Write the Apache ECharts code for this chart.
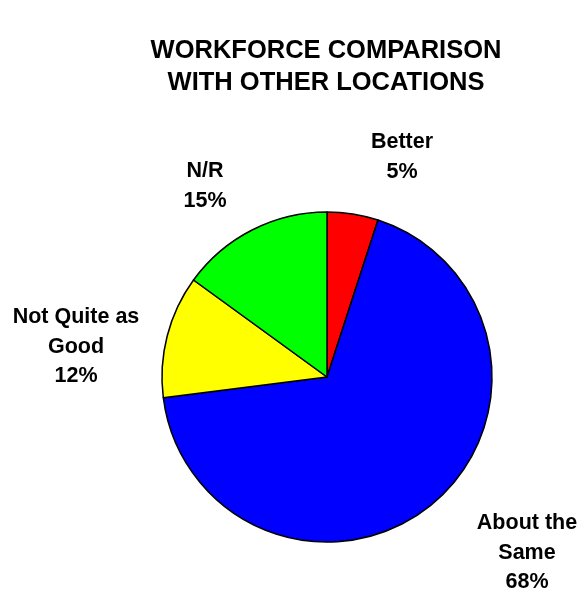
<!DOCTYPE html>
<html><head><meta charset="utf-8">
<script src="https://cdn.jsdelivr.net/npm/echarts@6/dist/echarts.min.js"></script>
<style>html,body{margin:0;padding:0;background:#fff}#c{width:583px;height:594px}</style>
</head><body><div id="c"></div>
<script>
const categories = ['Better', 'About the\nSame', 'Not Quite as\nGood', 'N/R'];
const values = [5, 68, 12, 15];
const colors = ['#FF0000', '#0000FF', '#FFFF00', '#00FF00'];
const labelPos = [[402, 157], [527, 553], [76, 347], [205, 186]];

const chart = echarts.init(document.getElementById('c'));
chart.setOption({
  animation: false,
  title: {
    text: 'WORKFORCE COMPARISON\nWITH OTHER LOCATIONS',
    left: 321, top: 30, textAlign: 'center',
    textStyle: { fontFamily: 'Liberation Sans, Arial, sans-serif', fontSize: 25.5, fontWeight: 'bold', color: '#000', lineHeight: 32 }
  },
  series: [{
    type: 'pie',
    center: [327, 377],
    radius: 165,
    startAngle: 90,
    clockwise: true,
    itemStyle: { borderColor: '#000', borderWidth: 1.5 },
    label: {
      show: true, position: 'outside',
      formatter: p => p.name + '\n' + p.value + '%',
      fontFamily: 'Liberation Sans, Arial, sans-serif', fontSize: 21.5, fontWeight: 'bold',
      color: '#000', lineHeight: 29.5, align: 'center', overflow: 'none', width: 200
    },
    labelLine: { show: false },
    labelLayout: p => ({ x: labelPos[p.dataIndex][0], y: labelPos[p.dataIndex][1], align: 'center', verticalAlign: 'middle' }),
    emphasis: { disabled: true },
    data: categories.map((c, i) => ({ name: c, value: values[i], itemStyle: { color: colors[i] } }))
  }]
});
</script></body></html>
